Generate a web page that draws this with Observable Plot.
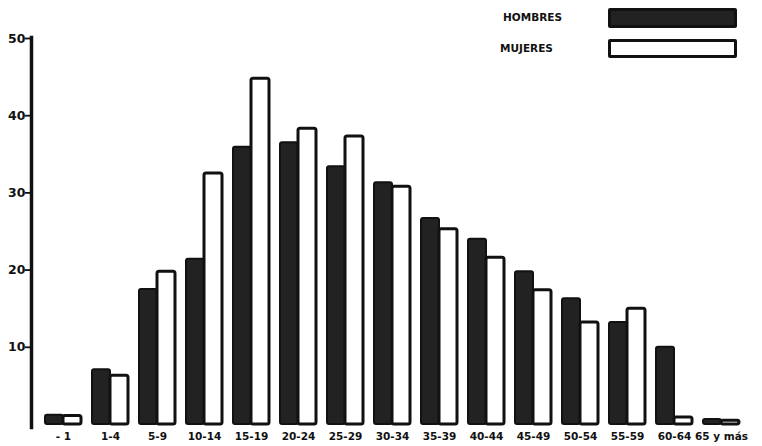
<!DOCTYPE html>
<html>
<head>
<meta charset="utf-8">
<script src="https://cdn.jsdelivr.net/npm/d3@7"></script>
<script src="https://cdn.jsdelivr.net/npm/@observablehq/plot@0.6"></script>
<style>
  body { margin: 0; background: #fff; font-family: "DejaVu Sans", sans-serif; }
  #wrap { position: relative; width: 762px; height: 446px; }
  .leg-label { position: absolute; font-weight: bold; font-size: 10.5px; color: #111; }
  .leg-swatch { position: absolute; box-sizing: border-box; border: 3px solid #111; border-radius: 2px; }
  svg [aria-label="y-axis tick"] path, svg [aria-label="y-axis tick"] { stroke-width: 1.8; }
  svg [aria-label="y-axis tick label"] { font-size: 12.5px; font-weight: 900; }
  svg [aria-label="x-axis tick label"] { font-size: 10.5px; }
</style>
</head>
<body>
<div id="wrap">
  <div id="chart"></div>
  <div class="leg-label" style="left:503px; top:11px;">HOMBRES</div>
  <div class="leg-swatch" style="left:608px; top:8px; width:129px; height:20px; background:#222;"></div>
  <div class="leg-label" style="left:500px; top:42px;">MUJERES</div>
  <div class="leg-swatch" style="left:608px; top:39px; width:129px; height:19px; background:#fff;"></div>
</div>
<script>
const ages = ["- 1", "1-4", "5-9", "10-14", "15-19", "20-24", "25-29", "30-34", "35-39", "40-44", "45-49", "50-54", "55-59", "60-64", "65 y más"];
const hombres = [1.2, 7.1, 17.5, 21.4, 35.9, 36.5, 33.4, 31.3, 26.7, 24.0, 19.8, 16.3, 13.2, 10.0, 0.65];
const mujeres = [1.1, 6.3, 19.8, 32.5, 44.8, 38.3, 37.3, 30.8, 25.3, 21.6, 17.4, 13.2, 15.0, 0.9, 0.5];
const yTicks = [10, 20, 30, 40, 50];

const dataH = ages.map((a, i) => ({age: a, value: hombres[i]}));
const dataM = ages.map((a, i) => ({age: a, value: mujeres[i]}));

const plot = Plot.plot({
  width: 762,
  height: 446,
  marginLeft: 31,
  marginRight: 10,
  marginTop: 38,
  marginBottom: 22,
  style: {fontFamily: '"DejaVu Sans", sans-serif', fontSize: "10.5px", fontWeight: "bold", color: "#111", background: "#fff"},
  x: {domain: ages, paddingInner: 0.24, paddingOuter: 0.21, tickSize: 0, tickPadding: 8, label: null},
  y: {domain: [0, 50], ticks: yTicks, tickSize: 6, tickPadding: 0, label: null},
  marks: [
    Plot.frame({anchor: "left", stroke: "#111", strokeWidth: 3.5, insetTop: -1, insetBottom: -3}),
    Plot.barY(dataH, {x: "age", y: "value", fill: "#222", stroke: "#111", strokeWidth: 2, insetRight: 18, rx: 2}),
    Plot.barY(dataM, {x: "age", y: "value", fill: "#fff", stroke: "#111", strokeWidth: 3, insetLeft: 18, rx: 2})
  ]
});
document.getElementById("chart").appendChild(plot);
</script>
</body>
</html>
